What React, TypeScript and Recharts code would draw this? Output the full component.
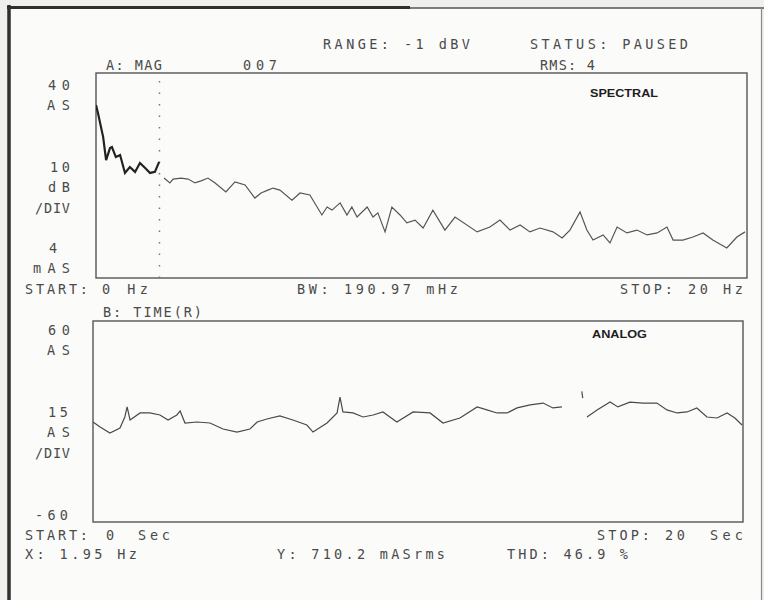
import React from "react";
import { LineChart, Line, XAxis, YAxis, ReferenceLine } from "recharts";

// ---------- DATA ----------
// Spectral trace (A: MAG), frequency in Hz, level in dB (axis -48..+32, 10 dB/div)
const specFreq = [
  0, 0.06, 0.22, 0.31, 0.43, 0.49, 0.61, 0.74, 0.89, 1.04, 1.2, 1.35, 1.51, 1.66, 1.81, 1.94,
  2.09, 2.27, 2.37, 2.61, 2.83, 3.04, 3.23, 3.44, 3.66, 3.99, 4.27, 4.58, 4.88, 5.07, 5.28,
  5.44, 5.65, 6.02, 6.27, 6.57, 6.94, 7.1, 7.25, 7.5, 7.71, 7.86, 8.02, 8.33, 8.51, 8.66,
  8.88, 9.09, 9.34, 9.55, 9.8, 10.05, 10.35, 10.72, 11.03, 11.71, 12.1, 12.41, 12.72, 13.03,
  13.33, 13.64, 14.04, 14.32, 14.56, 14.87, 15.08, 15.27, 15.58, 15.79, 16.01, 16.31, 16.62,
  16.93, 17.24, 17.54, 17.73, 18.03, 18.34, 18.65, 18.95, 19.38, 19.69, 19.94,
];
const specLevel = [
  19.5, 16.4, 7.0, -2.0, 2.7, 3.1, -0.8, 0.0, -7.0, -4.7, -6.6, -3.1, -5.1, -7.0, -6.6, -2.7,
  -9.0, -10.9, -9.4, -9.0, -9.4, -10.9, -10.1, -9.0, -10.9, -14.4, -10.5, -11.7, -16.8, -14.8, -13.7,
  -12.9, -13.7, -17.6, -14.8, -15.6, -23.4, -20.3, -21.5, -18.7, -23.4, -20.3, -24.2, -20.3, -24.2, -22.6,
  -30.0, -20.3, -23.4, -26.5, -25.4, -28.5, -21.5, -29.3, -24.2, -30.0, -28.1, -25.4, -29.3, -27.3,
  -30.0, -28.5, -30.0, -32.4, -29.3, -22.2, -29.3, -33.2, -31.2, -34.3, -28.1, -30.4, -29.3,
  -31.2, -30.4, -28.1, -33.2, -33.2, -32.0, -30.4, -33.2, -36.3, -32.0, -30.0,
];
const markerHz = 1.95;

// Time trace (B: TIME(R)), seconds vs AS (axis -60..60, 15 AS/div); null = gap in trace
const timeSec = [
  0, 0.22, 0.52, 0.83, 0.98, 1.05, 1.14, 1.45, 1.75, 2.06, 2.31, 2.58, 2.68, 2.83, 3.2, 3.6,
  4.0, 4.43, 4.83, 5.05, 5.35, 5.75, 6.15, 6.58, 6.77, 7.2, 7.51, 7.6, 7.69, 8.0, 8.31, 8.62,
  8.92, 9.35, 9.85, 10.37, 10.77, 11.29, 11.82, 12.12, 12.43, 12.74, 13.05, 13.45, 13.85,
  14.15, 14.43, 14.7, 15.04, 15.07, 15.12, 15.2, 15.51, 15.91, 16.15, 16.52, 16.92, 17.35,
  17.66, 17.97, 18.28, 18.58, 18.89, 19.2, 19.51, 19.75, 19.97,
];
const timeValue: (number | null)[] = [
  -0.3, -3.3, -6.9, -3.9, 2.7, 8.7, 0.9, 5.1, 5.1, 3.9, 0.9, 3.9, 6.3, -0.9, -0.3, -0.9,
  -4.5, -6.3, -4.5, -0.3, 1.5, 3.3, 0.9, -2.1, -6.3, -0.9, 5.1, 14.6, 5.7, 5.1, 2.7, 3.9,
  5.7, -0.3, 5.7, 5.1, -0.9, 2.1, 8.7, 6.9, 5.1, 5.1, 8.1, 9.9, 11.0,
  8.1, 8.7, null, 18, 14, null, 2.7, 6.9, 11.6, 8.7, 11.6, 11.0, 11.0,
  6.9, 5.1, 5.7, 8.1, 2.7, 2.1, 5.1, 2.1, -2.1,
];

// Text content
const headerTexts = ["RANGE: -1 dBV", "STATUS: PAUSED", "A: MAG", "007", "RMS: 4"];
const specYLabels = ["40", "AS", "10", "dB", "/DIV", "4", "mAS"];
const specXLabels = ["START:", "0 Hz", "BW: 190.97 mHz", "STOP:", "20", "Hz"];
const timeTitle = "B: TIME(R)";
const timeYLabels = ["60", "AS", "15", "AS", "/DIV", "-60"];
const timeXLabels = ["START:", "0", "Sec", "STOP:", "20", "Sec"];
const footerTexts = ["X: 1.95 Hz", "Y: 710.2 mASrms", "THD: 46.9 %"];
const panelTitles = ["SPECTRAL", "ANALOG"];

// ---------- LAYOUT ----------
type P = { x: number; y: number; w?: number };
const headerPos: P[] = [
  { x: 323, y: 49, w: 147 },
  { x: 530, y: 49, w: 158 },
  { x: 106, y: 70, w: 56 },
  { x: 243, y: 70, w: 34 },
  { x: 540, y: 70, w: 55 },
];
const specYPos: P[] = [
  { x: 48, y: 90, w: 22 },
  { x: 47, y: 110, w: 23 },
  { x: 50, y: 172, w: 20 },
  { x: 48, y: 192, w: 22 },
  { x: 35, y: 213, w: 35 },
  { x: 49, y: 253 },
  { x: 33, y: 273, w: 37 },
];
const specXPos: P[] = [
  { x: 25, y: 294, w: 63 },
  { x: 102, y: 294, w: 46 },
  { x: 297, y: 294, w: 161 },
  { x: 620, y: 294, w: 53 },
  { x: 688, y: 294, w: 20 },
  { x: 723, y: 294, w: 20 },
];
const timeYPos: P[] = [
  { x: 48, y: 335, w: 22 },
  { x: 47, y: 355, w: 23 },
  { x: 48, y: 417, w: 20 },
  { x: 47, y: 437, w: 23 },
  { x: 35, y: 458, w: 35 },
  { x: 35, y: 520, w: 33 },
];
const timeXPos: P[] = [
  { x: 25, y: 540, w: 63 },
  { x: 106, y: 540 },
  { x: 138, y: 540, w: 32 },
  { x: 597, y: 540, w: 53 },
  { x: 665, y: 540, w: 20 },
  { x: 710, y: 540, w: 33 },
];
const footerPos: P[] = [
  { x: 25, y: 559, w: 112 },
  { x: 277, y: 559, w: 168 },
  { x: 507, y: 559, w: 121 },
];
const titlePos: P[] = [
  { x: 590, y: 97, w: 68 },
  { x: 592, y: 338, w: 55 },
];

const SPEC = { left: 96, top: 73, width: 651, height: 205 };
const TIME = { left: 93, top: 321, width: 650, height: 201 };

const INK = "#4a4a4a";
const FONT = "'DejaVu Sans Mono', 'Liberation Mono', monospace";

function Txt({ t, p, bold }: { t: string; p: P; bold?: boolean }) {
  return (
    <text
      x={p.x}
      y={p.y}
      fill={bold ? "#1e1e1e" : INK}
      fontFamily={bold ? "'Liberation Sans', Arial, sans-serif" : FONT}
      fontWeight={bold ? 700 : 400}
      fontSize={bold ? 11.5 : 13.5}
      textLength={p.w}
      lengthAdjust={p.w ? (bold ? "spacingAndGlyphs" : "spacing") : undefined}
    >
      {t}
    </text>
  );
}

export default function App() {
  const specRows = specFreq.map((f, i) => ({
    f,
    near: f <= markerHz ? specLevel[i] : null,
    far: f > markerHz ? specLevel[i] : null,
  }));
  const timeRows = timeSec.map((t, i) => ({ t, v: timeValue[i] }));

  const group = (texts: string[], pos: P[], bold?: boolean) =>
    texts.map((t, i) => <Txt key={t + i} t={t} p={pos[i]} bold={bold} />);

  return (
    <div
      style={{
        position: "absolute",
        left: 0,
        top: 0,
        width: 764,
        height: 600,
        background: "#efefed",
        overflow: "hidden",
      }}
    >
      <svg width={764} height={600} style={{ position: "absolute", left: 0, top: 0 }}>
        <rect x={9} y={8} width={752} height={600} fill="#fbfbfa" />
        <line x1={9} y1={5} x2={9} y2={600} stroke="#2e2e2e" strokeWidth={3.5} />
        <line x1={7} y1={7.5} x2={410} y2={7.5} stroke="#2e2e2e" strokeWidth={3} />
        <line x1={410} y1={8} x2={764} y2={8} stroke="#555" strokeWidth={1.5} />
        <line x1={761.5} y1={8} x2={761.5} y2={600} stroke="#8a8a8a" strokeWidth={1.2} />
        <rect
          x={SPEC.left}
          y={SPEC.top}
          width={SPEC.width}
          height={SPEC.height}
          fill="none"
          stroke="#555"
          strokeWidth={1.4}
        />
        <rect
          x={TIME.left}
          y={TIME.top}
          width={TIME.width}
          height={TIME.height}
          fill="none"
          stroke="#555"
          strokeWidth={1.4}
        />
        {group(headerTexts, headerPos)}
        {group(specYLabels, specYPos)}
        {group(specXLabels, specXPos)}
        <Txt t={timeTitle} p={{ x: 103, y: 317, w: 99 }} />
        {group(timeYLabels, timeYPos)}
        {group(timeXLabels, timeXPos)}
        {group(footerTexts, footerPos)}
        {group(panelTitles, titlePos, true)}
      </svg>

      <div style={{ position: "absolute", left: SPEC.left, top: SPEC.top }}>
        <LineChart
          width={SPEC.width}
          height={SPEC.height}
          data={specRows}
          margin={{ top: 0, right: 0, bottom: 0, left: 0 }}
        >
          <XAxis dataKey="f" type="number" domain={[0, 20]} hide />
          <YAxis type="number" domain={[-48, 32]} hide allowDataOverflow />
          <ReferenceLine
            x={markerHz}
            stroke="#777"
            strokeWidth={1.5}
            strokeDasharray="1.5 10"
            ifOverflow="extendDomain"
          />
          <Line
            dataKey="near"
            stroke="#222"
            strokeWidth={2.2}
            dot={false}
            type="linear"
            isAnimationActive={false}
            connectNulls={false}
          />
          <Line
            dataKey="far"
            stroke="#555"
            strokeWidth={1.2}
            dot={false}
            type="linear"
            isAnimationActive={false}
            connectNulls={false}
          />
        </LineChart>
      </div>

      <div style={{ position: "absolute", left: TIME.left, top: TIME.top }}>
        <LineChart
          width={TIME.width}
          height={TIME.height}
          data={timeRows}
          margin={{ top: 0, right: 0, bottom: 0, left: 0 }}
        >
          <XAxis dataKey="t" type="number" domain={[0, 20]} hide />
          <YAxis type="number" domain={[-60, 60]} hide allowDataOverflow />
          <Line
            dataKey="v"
            stroke="#4a4a4a"
            strokeWidth={1.2}
            dot={false}
            type="linear"
            isAnimationActive={false}
            connectNulls={false}
          />
        </LineChart>
      </div>
    </div>
  );
}
